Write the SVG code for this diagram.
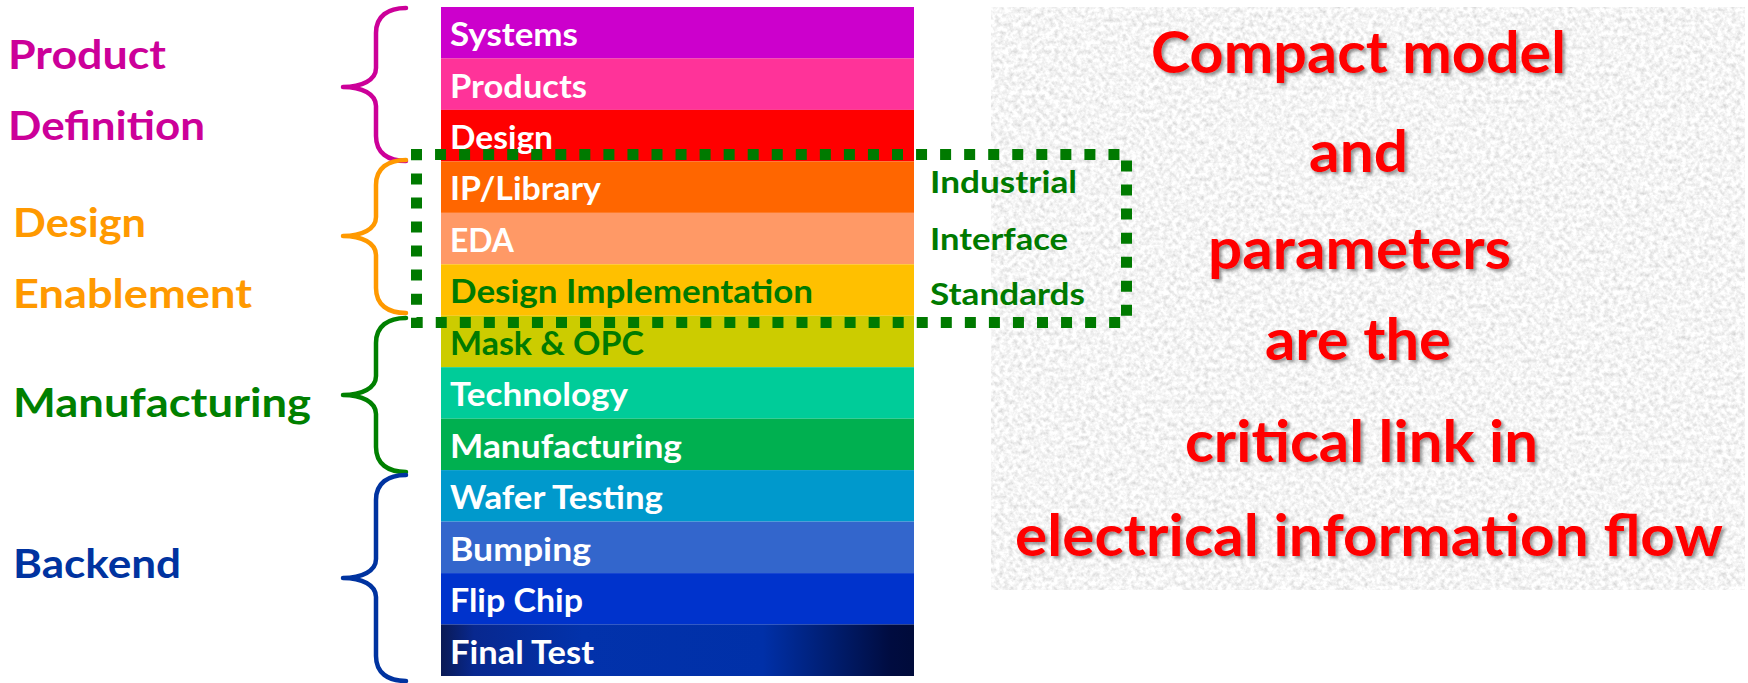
<svg xmlns="http://www.w3.org/2000/svg" width="1748" height="683" viewBox="0 0 1748 683">
  <style>
    .row-label { font-family: Lato, "Open Sans", "DejaVu Sans", sans-serif; font-weight: 700; font-size: 33px; fill: #ffffff; }
    .row-label.dark { fill: #007a00; }
    .group-label { font-family: Lato, "Open Sans", "DejaVu Sans", sans-serif; font-weight: 700; font-size: 41px; }
    .std-label { font-family: Lato, "Open Sans", "DejaVu Sans", sans-serif; font-weight: 700; font-size: 30px; fill: #007a00; }
    .claim { font-family: Lato, "Open Sans", "DejaVu Sans", sans-serif; font-weight: 700; font-size: 57px; fill: #ff0000; filter: url(#softShadow); }
    .brace { fill: none; stroke-width: 4.5; stroke-linecap: round; stroke-linejoin: round; }
    .std-frame { fill: none; stroke: #007a00; stroke-width: 11; stroke-dasharray: 11 13.05; stroke-dashoffset: 5.5; }
  </style>
  <defs>
    <linearGradient id="finalTestFill" x1="0" y1="0" x2="1" y2="0">
      <stop offset="0" stop-color="#0a1a55"/>
      <stop offset="0.07" stop-color="#08288f"/>
      <stop offset="0.3" stop-color="#0232ab"/>
      <stop offset="0.68" stop-color="#0030a8"/>
      <stop offset="0.85" stop-color="#001a66"/>
      <stop offset="0.95" stop-color="#000c40"/>
      <stop offset="1" stop-color="#000b3a"/>
    </linearGradient>
    <filter id="grain" x="0" y="0" width="1" height="1" filterUnits="objectBoundingBox">
      <feTurbulence type="fractalNoise" baseFrequency="0.22" numOctaves="3" seed="7" result="noise"/>
      <feColorMatrix in="noise" type="matrix" values="0.6 0 0 0 0.61  0.6 0 0 0 0.61  0.6 0 0 0 0.61  0 0 0 0 1" result="gray"/>
      <feComposite in="gray" in2="SourceGraphic" operator="in"/>
    </filter>
    <filter id="softShadow" x="-5%" y="-20%" width="110%" height="150%">
      <feDropShadow dx="2.5" dy="2.5" stdDeviation="1.5" flood-color="#404040" flood-opacity="0.55"/>
    </filter>
  </defs>

  <rect width="1748" height="683" fill="#ffffff"/>

  <!-- textured panel behind the statement -->
  <g id="statement-panel">
    <rect x="991" y="7" width="754" height="583" fill="#e8e8e8" filter="url(#grain)"/>
  </g>

  <!-- value chain stack -->
  <g id="row-systems">
    <rect x="441" y="7" width="473" height="51.5" fill="#cc00cc"/>
    <text class="row-label" x="450" y="46" textLength="128" lengthAdjust="spacingAndGlyphs">Systems</text>
  </g>
  <g id="row-products">
    <rect x="441" y="58.4" width="473" height="51.5" fill="#ff3399"/>
    <text class="row-label" x="450" y="97.5" textLength="137" lengthAdjust="spacingAndGlyphs">Products</text>
  </g>
  <g id="row-design">
    <rect x="441" y="109.9" width="473" height="51.5" fill="#ff0000"/>
    <text class="row-label" x="450" y="148.9" textLength="103" lengthAdjust="spacingAndGlyphs">Design</text>
  </g>
  <g id="row-ip-library">
    <rect x="441" y="161.4" width="473" height="51.5" fill="#ff6600"/>
    <text class="row-label" x="450" y="200.4" textLength="151" lengthAdjust="spacingAndGlyphs">IP/Library</text>
  </g>
  <g id="row-eda">
    <rect x="441" y="212.8" width="473" height="51.5" fill="#ff9966"/>
    <text class="row-label" x="450" y="251.8" textLength="64" lengthAdjust="spacingAndGlyphs">EDA</text>
  </g>
  <g id="row-design-implementation">
    <rect x="441" y="264.3" width="473" height="51.5" fill="#ffc000"/>
    <text class="row-label dark" x="450" y="303.3" textLength="363" lengthAdjust="spacingAndGlyphs">Design Implementation</text>
  </g>
  <g id="row-mask-opc">
    <rect x="441" y="315.8" width="473" height="51.5" fill="#cccc00"/>
    <text class="row-label dark" x="450" y="354.8" textLength="194" lengthAdjust="spacingAndGlyphs">Mask &amp; OPC</text>
  </g>
  <g id="row-technology">
    <rect x="441" y="367.2" width="473" height="51.5" fill="#00cc99"/>
    <text class="row-label" x="450" y="406.2" textLength="178" lengthAdjust="spacingAndGlyphs">Technology</text>
  </g>
  <g id="row-manufacturing">
    <rect x="441" y="418.7" width="473" height="51.5" fill="#00b050"/>
    <text class="row-label" x="450" y="457.7" textLength="232" lengthAdjust="spacingAndGlyphs">Manufacturing</text>
  </g>
  <g id="row-wafer-testing">
    <rect x="441" y="470.1" width="473" height="51.5" fill="#0099cc"/>
    <text class="row-label" x="450" y="509.2" textLength="213" lengthAdjust="spacingAndGlyphs">Wafer Testing</text>
  </g>
  <g id="row-bumping">
    <rect x="441" y="521.6" width="473" height="51.5" fill="#3366cc"/>
    <text class="row-label" x="450" y="560.6" textLength="141" lengthAdjust="spacingAndGlyphs">Bumping</text>
  </g>
  <g id="row-flip-chip">
    <rect x="441" y="573.1" width="473" height="51.5" fill="#0033cc"/>
    <text class="row-label" x="450" y="612.1" textLength="133" lengthAdjust="spacingAndGlyphs">Flip Chip</text>
  </g>
  <g id="row-final-test">
    <rect x="441" y="624.5" width="473" height="51.5" fill="url(#finalTestFill)"/>
    <text class="row-label" x="450" y="663.5" textLength="144" lengthAdjust="spacingAndGlyphs">Final Test</text>
  </g>

  <!-- phase labels -->
  <g id="label-product-definition" fill="#cc0099">
    <text class="group-label" x="8" y="69" textLength="158" lengthAdjust="spacingAndGlyphs">Product</text>
    <text class="group-label" x="8" y="140" textLength="197" lengthAdjust="spacingAndGlyphs">Definition</text>
  </g>
  <g id="label-design-enablement" fill="#ff9900">
    <text class="group-label" x="13" y="237" textLength="133" lengthAdjust="spacingAndGlyphs">Design</text>
    <text class="group-label" x="13" y="308" textLength="239" lengthAdjust="spacingAndGlyphs">Enablement</text>
  </g>
  <g id="label-manufacturing" fill="#008000">
    <text class="group-label" x="13" y="417" textLength="298" lengthAdjust="spacingAndGlyphs">Manufacturing</text>
  </g>
  <g id="label-backend" fill="#0033a0">
    <text class="group-label" x="13" y="578" textLength="168" lengthAdjust="spacingAndGlyphs">Backend</text>
  </g>

  <!-- curly brackets tying phases to stack rows -->
  <g id="brackets">
    <path class="brace" stroke="#cc0099" d="M406,8 C388,8 376,16 376,33 L376,68 C376,80 362,87 343,87 C362,87 376,94 376,106 L376,136 C376,153 388,161 406,161"/>
    <path class="brace" stroke="#ff9900" d="M406,160 C388,160 376,168 376,185 L376,217 C376,229 362,236 343,236 C362,236 376,243 376,255 L376,288 C376,305 388,313 406,313"/>
    <path class="brace" stroke="#008000" d="M406,318 C388,318 376,326 376,343 L376,376 C376,388 362,395 343,395 C362,395 376,402 376,414 L376,447 C376,464 388,472 406,472"/>
    <path class="brace" stroke="#0033a0" d="M406,475 C388,475 376,483 376,500 L376,559 C376,571 362,578 343,578 C362,578 376,585 376,597 L376,656 C376,673 388,681 406,681"/>
  </g>

  <!-- interface standards frame -->
  <g id="interface-standards">
    <rect class="std-frame" x="416.5" y="154.5" width="710" height="168"/>
    <text class="std-label" x="930" y="193.3" textLength="147" lengthAdjust="spacingAndGlyphs">Industrial</text>
    <text class="std-label" x="930" y="250" textLength="138" lengthAdjust="spacingAndGlyphs">Interface</text>
    <text class="std-label" x="930" y="305" textLength="155" lengthAdjust="spacingAndGlyphs">Standards</text>
  </g>

  <!-- statement -->
  <g id="statement">
    <text class="claim" x="1151" y="72.5" textLength="415" lengthAdjust="spacingAndGlyphs">Compact model</text>
    <text class="claim" x="1309" y="172" textLength="99" lengthAdjust="spacingAndGlyphs">and</text>
    <text class="claim" x="1208" y="269.3" textLength="303" lengthAdjust="spacingAndGlyphs">parameters</text>
    <text class="claim" x="1265" y="360" textLength="186" lengthAdjust="spacingAndGlyphs">are the</text>
    <text class="claim" x="1185" y="461.7" textLength="353" lengthAdjust="spacingAndGlyphs">critical link in</text>
    <text class="claim" x="1015" y="556" textLength="708" lengthAdjust="spacingAndGlyphs">electrical information flow</text>
  </g>
</svg>
